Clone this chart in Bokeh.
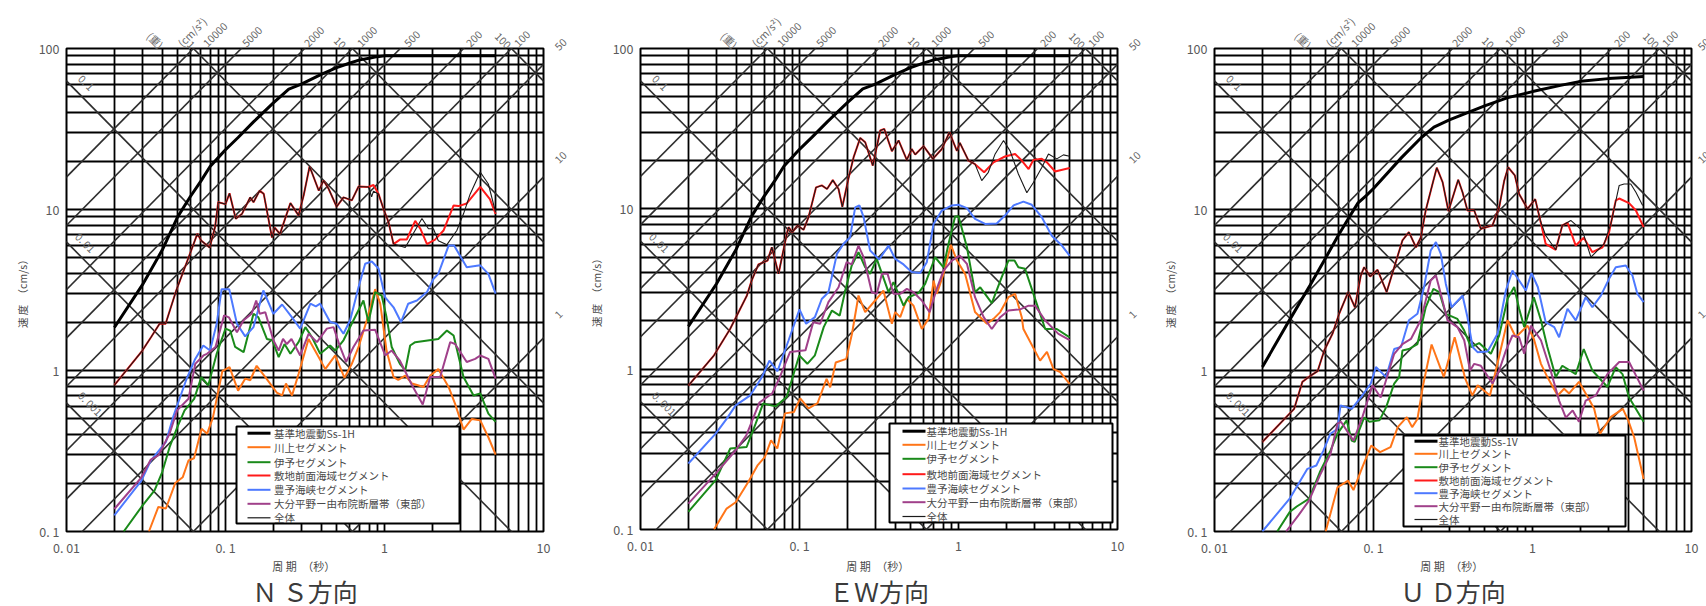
import math
from bokeh.plotting import figure
from bokeh.layouts import row
from bokeh.embed import file_html
from bokeh.resources import INLINE
from bokeh.models import FixedTicker, Label, BoxAnnotation, LogAxis, Title

# ---------- shared scale data ----------
x_ticks = [0.01, 0.1, 1, 10]
x_tick_labels = {0.01: "0. 01", 0.1: "0. 1", 1: "1", 10: "10"}
y_ticks = [0.1, 1, 10, 100]
y_tick_labels = {0.1: "0. 1", 1: "1", 10: "10", 100: "100"}
x_grid = [.01,.02,.03,.04,.05,.06,.07,.08,.09,.1,.2,.3,.4,.5,.6,.7,.8,.9,1,2,3,4,5,6,7,8,9,10]
y_grid = [.1,.2,.3,.4,.5,.6,.7,.8,.9,1,2,3,4,5,6,7,8,9,10,20,30,40,50,60,70,80,90,100]
accel_lines = [10000, 5000, 2000, 1000, 500, 200, 100, 50, 10, 1]
disp_lines = [100, 10, 1, 0.1, 0.01, 0.001]
series_names = ["川上セグメント", "伊予セグメント", "敷地前面海域セグメント", "豊予海峡セグメント",
                "大分平野ー由布院断層帯（東部）", "全体"]
series_colors = ["#ff7518", "#1a8a1a", "#ff1a1a", "#4d79ff", "#a0408a", "#1a1a1a"]

# ---------- design spectra ----------
ss_h_t = [.02,.03,.04,.05,.06,.07,.08,.09,.1,.12,.15,.2,.25,.3,.4,.5,.6,.7,.8,.9,1,2,5]
ss_h_v = [1.85,3.4,5.6,9.0,12,15,18.5,21,23.5,28,35,46,56,60,69,76,81,85,87,89,90,90,90]
ss_v_t = [.02,.03,.04,.05,.06,.07,.08,.09,.1,.15,.2,.24,.3,.5,.7,1,1.5,2,3,5]
ss_v_v = [1.05,2.1,3.4,5,6.9,8.9,11,12.2,13.5,21,28,32.5,36,44,49.5,54,59,62.5,65,67]

# ---------- NS ----------
ns_red_t = [.02,.03,.034,.0385,.042,.049,.058,.0665,.0705,.0795,.086,.09,.1,.106,.116,.127,.143,.15,.164,.174,.196,.204,.22,.256,.288,.31,.338,.386,.414,.446,.5,.552,.623,.687,.793,.853,.917,.985,1.06,1.14,1.25,1.38,1.56,1.68,1.85,2.08,2.35,2.72,2.92,3.29,4,4.6,5]
ns_red_v = [.81,1.33,1.61,1.95,1.95,3.14,4.9,7.06,6.4,5.8,7.8,11.1,10.8,12.6,8.75,9.4,11.9,11.1,13.1,12.5,6.7,7.7,7.06,10.95,9.2,12.2,18.5,13.1,15.1,13.4,10.4,11.9,11.4,13.9,13.8,14.2,12.5,10.1,8.35,6.1,6.5,6.5,8.5,7.6,6.1,6.5,7.4,10.6,10.5,10.9,13.8,11.6,9.4]
ns_blk_tail_t = [.83,.853,.917,.985,1.06,1.14,1.35,1.72,1.89,2.03,2.18,2.47,2.85,3.14,3.46,4,4.5,5]
ns_blk_tail_v = [12,13,12.5,10.1,8.35,6.1,5.8,8.8,7.6,7.6,6.4,6.05,7.4,9.4,12.5,17.1,14.4,9.6]
ns_blue_t = [.02,.0296,.0339,.0422,.047,.0565,.0645,.0725,.08,.088,.0945,.1055,.118,.133,.15,.173,.2,.227,.262,.295,.342,.37,.394,.455,.5,.552,.608,.687,.756,.832,.917,1.01,1.14,1.27,1.41,1.6,1.85,2.03,2.18,2.53,2.74,3.29,4,4.5,5]
ns_blue_v = [.126,.207,.276,.36,.52,.87,1.18,1.43,1.33,1.95,3.2,3.2,1.95,1.63,1.86,3.14,2.25,2.57,2.14,1.82,2.6,2.5,2.6,2.0,1.95,1.69,2.05,3.3,4.6,4.75,4.3,2.85,2.47,2.0,2.6,2.72,3.07,3.7,3.98,5.97,5.97,4.38,4.5,3.98,3.0]
ns_green_t = [.0229,.0296,.0358,.04,.0445,.05,.0553,.0635,.0705,.078,.088,.1,.107,.115,.13,.15,.161,.182,.197,.216,.235,.256,.288,.318,.35,.394,.455,.49,.552,.638,.737,.793,.874,.96,1.03,1.11,1.25,1.35,1.45,1.56,2.18,2.47,2.72,3.14,3.63,4,4.5,5]
ns_green_v = [.1,.142,.18,.234,.334,.45,.565,.667,.91,.81,1.27,1.82,1.77,1.4,1.3,2.25,2.14,1.57,1.54,1.21,1.46,1.27,1.5,1.86,1.61,1.27,1.43,1.33,1.54,2.05,2.72,2.0,3.07,2.92,2.14,1.4,1.1,1.0,1.43,1.5,1.57,1.77,1.65,.91,.7,.72,.54,.48]
ns_purple_t = [.02,.0296,.0339,.0378,.0445,.0496,.0585,.0645,.0727,.0765,.0865,.098,.105,.118,.13,.146,.156,.164,.178,.2,.216,.23,.243,.26,.295,.333,.376,.434,.478,.526,.573,.638,.737,.874,1.01,1.11,1.25,1.49,1.74,1.94,2.24,2.59,2.78,3.29,3.72,4,4.5,5]
ns_purple_v = [.138,.217,.28,.297,.405,.565,.667,1.1,1.24,1.27,1.4,2.2,2.14,1.73,2.05,2.25,2.72,2.25,2.3,1.54,1.33,1.57,1.46,1.57,1.24,1.69,1.5,1.82,1.86,1.4,1.13,1.4,1.77,1.79,1.24,1.33,1.15,.81,.615,.91,.91,1.5,1.46,1.13,1.18,1.24,1.18,.89]
ns_orange_t = [.033,.0378,.0422,.0483,.0538,.0585,.0634,.0707,.0767,.0833,.0955,.106,.12,.133,.143,.157,.178,.21,.227,.24,.262,.288,.333,.386,.424,.49,.56,.623,.687,.774,.874,.94,1.03,1.14,1.22,1.35,1.49,1.76,1.94,2.18,2.53,2.78,3.14,3.54,4,4.5,5]
ns_orange_v = [.1,.142,.139,.2,.217,.276,.285,.435,.405,.51,.99,1.05,.75,.89,.87,1.07,.91,.73,.7,.83,.7,.95,1.57,1.21,1.02,1.24,.9,1.1,1.4,2.05,3.2,2.6,1.33,.91,.875,.93,.83,.79,.93,1.02,.79,.62,.43,.5,.49,.385,.3]

# ---------- EW ----------
ew_red_t = [.02,.029,.0366,.0467,.05,.0552,.063,.067,.0738,.0832,.0853,.09,.097,.106,.114,.127,.138,.149,.162,.176,.186,.203,.219,.241,.259,.289,.322,.341,.381,.42,.473,.508,.534,.603,.69,.785,.877,.977,1.02,1.156,1.27,1.45,1.66,1.96,2.27,2.5,2.76,2.96,3.34,3.6,4.05,5]
ew_red_v = [.79,1.22,1.78,2.88,3.57,4.5,4.76,5.76,3.93,6.98,7.68,7.15,7.87,7.4,8.87,13.6,14,13.3,15.1,13.3,10.3,15.4,21,27.7,26,18.6,30.8,31.5,22.9,26.7,20.2,23.6,21.8,24.6,20.5,23.6,30,23,25.8,20,19,16.9,19.5,21.2,22,20,17.7,20.2,20.5,19.5,17.1,18]
ew_blk_tail_t = [1.27,1.4,1.54,1.7,1.92,2.11,2.38,2.69,2.96,3.34,3.68,4.15,4.57,5]
ew_blk_tail_v = [19,15,16.9,22,26.7,23,16.5,12.6,14.6,18.1,22,20.5,21.7,21.3]
ew_blue_t = [.02,.0297,.0348,.0397,.049,.058,.0647,.0727,.0853,.1,.11,.125,.138,.152,.172,.189,.208,.224,.238,.253,.278,.317,.363,.4,.451,.508,.574,.632,.697,.785,.908,1,1.13,1.27,1.47,1.74,1.96,2.22,2.56,2.89,3.34,3.86,4.47,5]
ew_blue_v = [.258,.396,.49,.594,.687,.89,1.13,.97,1.51,2.36,1.92,2.11,2.74,3.02,5.24,6.04,6.65,10.2,10.5,8.87,5.5,4.83,5.9,4.87,4.5,4.03,3.98,4.65,8.05,9.75,10.5,10.6,10.1,8.66,8.05,8.1,9.08,10.5,11.1,10.6,8.87,6.8,5.9,5.1]
ew_green_t = [.02,.0297,.0367,.0465,.053,.059,.0708,.083,.0997,.112,.125,.142,.16,.179,.194,.213,.235,.259,.278,.306,.363,.39,.451,.485,.56,.617,.713,.805,.865,.952,1,1.13,1.27,1.37,1.62,1.87,2.06,2.25,2.38,2.62,2.96,3.51,4.15,5]
ew_green_v = [.129,.203,.32,.327,.457,.61,.586,.67,1.22,1.08,1.22,1.83,2.32,2.16,3.09,4.43,5.36,4.32,3.93,4.87,3.02,3.49,2.49,2.81,2.98,3.4,4.99,4.32,6.04,8.95,9,5.76,3.02,3.24,2.58,3.75,4.76,4.76,4.32,4.23,2.95,1.78,1.78,1.58]
ew_purple_t = [.02,.0297,.0397,.0463,.056,.0673,.0746,.0873,.109,.122,.135,.152,.176,.198,.213,.235,.253,.285,.306,.33,.358,.39,.43,.473,.521,.588,.658,.73,.805,.908,1.02,1.13,1.27,1.44,1.62,1.83,2.06,2.44,2.76,3.03,3.51,4.25,5]
ew_purple_v = [.145,.223,.312,.386,.62,.705,.875,1.28,1.31,1.96,1.92,2.62,3.24,4.65,4.5,5.9,4.99,3.02,2.95,3.93,3.93,2.95,2.95,3.17,3.02,2.68,2.27,3.17,4.12,4.76,5.1,4.54,2.81,2.11,1.78,2.11,2.32,2.36,2.49,2.49,2.01,1.66,1.52]
ew_orange_t = [.029,.0348,.0397,.0476,.0543,.0605,.0662,.0725,.081,.0922,.101,.114,.13,.148,.156,.169,.197,.214,.235,.259,.299,.337,.381,.4,.43,.473,.521,.588,.648,.697,.73,.805,.895,.977,1.1,1.27,1.51,1.66,1.83,2.06,2.27,2.5,2.56,3.26,3.6,3.96,4.36,5]
ew_orange_v = [.1,.135,.148,.198,.25,.283,.36,.32,.53,.54,.658,.57,.615,.87,.77,1.1,1.16,1.67,2.88,2.27,2.68,3.09,1.92,2.27,2.11,2.74,2.49,1.78,2.06,3.57,2.95,3.93,5.96,4.76,3.93,2.27,1.92,2.06,2.27,2.81,2.95,2.11,1.78,1.13,1.28,1.0,.96,.81]

# ---------- UD ----------
ud_red_t = [.02,.0317,.0357,.0403,.0445,.049,.0552,.0608,.0693,.0764,.0832,.0873,.0953,.106,.121,.135,.152,.167,.185,.198,.213,.235,.25,.272,.296,.341,.363,.39,.43,.473,.56,.617,.664,.703,.774,.824,.93,1.04,1.12,1.21,1.4,1.54,1.66,1.87,2.1,2.38,2.76,3.03,3.34,3.51,4.05,4.47,5]
ud_red_v = [.36,.578,.85,.93,.99,1.33,1.69,2.25,3.07,2.47,3.89,4.38,3.84,4.22,3.07,4.38,6.42,7.23,5.83,6.67,9.86,14.4,18.2,14.8,9.77,15.3,12.8,9.86,9.86,7.59,7.96,10.3,15.1,18.3,16.3,12.5,10.1,11.6,8.55,6.12,5.62,7.96,8.3,5.97,6.67,5.43,5.83,7.23,11.4,11.7,10.95,9.86,7.77]
ud_blk_tail_t = [1.12,1.21,1.4,1.54,1.74,2.06,2.33,2.82,3.11,3.51,3.77,4.15,4.47,4.93]
ud_blk_tail_v = [8.55,6.9,5.62,7.96,8.55,7.4,5.06,6.12,8.15,14.1,14.4,14.4,12.8,10.6]
ud_blue_t = [.02,.0297,.0384,.0437,.0484,.0536,.0594,.062,.0729,.0832,.0962,.1035,.12,.135,.149,.167,.189,.208,.229,.247,.265,.285,.31,.363,.39,.42,.451,.521,.603,.68,.748,.824,.908,.986,1.08,1.21,1.37,1.47,1.66,1.87,2.16,2.38,2.69,3.03,3.34,3.86,4.25,4.57,5]
ud_blue_v = [.1,.16,.245,.257,.318,.405,.435,.607,.578,.68,.83,1.05,.91,1.36,1.4,2.05,2.25,3.3,5.57,6.27,5.3,3.45,2.47,2.92,2.14,1.4,1.3,1.31,1.69,3.14,4.18,3.62,3.14,4.03,3.3,2.0,1.86,1.61,2.42,2.05,2.85,2.47,2.92,3.71,4.38,4.49,3.89,2.99,2.66]
ud_green_t = [.0248,.0297,.0329,.0394,.046,.0536,.0594,.0678,.0729,.0761,.0873,.0942,.109,.12,.135,.145,.152,.167,.189,.213,.238,.259,.285,.337,.372,.41,.462,.547,.617,.697,.767,.824,.887,1.02,1.13,1.24,1.4,1.54,1.87,2.1,2.38,2.96,3.34,3.68,4.05,5]
ud_green_v = [.1,.132,.143,.16,.234,.318,.405,.49,.367,.36,.51,.48,.49,.59,.83,.91,1.33,1.36,1.46,2.47,3.21,3.07,2.25,2.09,1.77,1.4,1.48,1.27,1.65,2.79,3.3,2.42,1.86,2.85,2.05,1.4,.91,1.07,.95,1.36,1.0,.79,1.05,.95,.68,.48]
ud_purple_t = [.0282,.0337,.0394,.046,.0536,.0594,.0624,.0748,.0851,.0986,.111,.135,.152,.172,.198,.213,.229,.247,.265,.292,.337,.372,.405,.43,.473,.56,.617,.68,.748,.824,.887,.977,1.13,1.3,1.47,1.62,1.79,1.96,2.16,2.5,2.96,3.51,4.05,5]
ud_purple_v = [.1,.126,.156,.223,.303,.467,.48,.367,.513,.81,.68,1.27,1.46,1.57,2.05,2.72,3.62,3.89,2.99,2.05,1.86,1.54,1.0,1.1,1.07,.83,1.0,1.33,1.65,1.61,1.27,1.9,1.54,1.0,.65,.51,.565,.48,.65,.7,.95,1.13,1.13,.75]
ud_orange_t = [.05,.0594,.0692,.0748,.0851,.0968,.11,.128,.142,.162,.175,.189,.204,.232,.277,.324,.378,.418,.452,.54,.697,.785,.93,1.02,1.13,1.24,1.44,1.58,1.7,1.96,2.16,2.44,2.66,3.1,3.7,4,4.36,5]
ud_orange_v = [.1,.188,.207,.181,.251,.342,.311,.334,.445,.513,.445,.5,.79,1.45,.91,1.61,.887,.7,.81,.7,2.05,1.61,1.9,1.57,1.1,.91,.7,.77,.72,.85,.72,.58,.405,.513,.578,.49,.385,.212]

# ---------- scale annotations around the frame (text, pixel offset from the frame) ----------
disp_top_labels = [("(重)", 95), ("1", 127), ("10", 278), ("100", 443)]
accel_top_labels = [("(cm/s²)", 113), ("10000", 138), ("5000", 177), ("2000", 239), ("1000", 292),
                    ("500", 339), ("200", 401), ("100", 449)]
accel_right_labels = [("50", 0), ("10", 113), ("1", 268)]
disp_left_labels = [("0. 1", 20, 82), ("0. 01", 19, 242), ("0. 001", 24, 403)]

FONT = "Noto Sans CJK JP"
TXT = "#4a4a4a"
SCALE_TXT = "#666666"
DIAG = "#2e2e2e"
H = 606


def splice(base_t, base_v, tail_t, tail_v):
    keep = [(t, v) for t, v in zip(base_t, base_v) if t < tail_t[0]]
    return [k[0] for k in keep] + list(tail_t), [k[1] for k in keep] + list(tail_v)


def bare(ax):
    ax.major_tick_line_color = None
    ax.minor_tick_line_color = None
    ax.major_tick_out = 0
    ax.major_tick_in = 0
    ax.minor_tick_out = 0
    ax.minor_tick_in = 0
    ax.axis_line_color = None
    ax.major_label_text_font = FONT


def style_text_axis(ax, ticks, labels, orient, standoff):
    bare(ax)
    ax.ticker = FixedTicker(ticks=ticks)
    ax.major_label_overrides = labels
    ax.major_label_orientation = orient
    ax.major_label_standoff = standoff
    ax.major_label_text_font_size = "10.5px"
    ax.major_label_text_color = SCALE_TXT


def panel(title, legend_ss, ss, curves, blk_tail, fig_w, b_left, b_right, frame_h,
          box, glyph_dx, text_dx, rows_y, right_standoff, xlabel_standoff):
    p = figure(width=fig_w, height=H, x_axis_type="log", y_axis_type="log",
               x_range=(0.01, 10), y_range=(0.1, 100), toolbar_location=None,
               output_backend="svg", min_border_left=b_left, min_border_right=b_right,
               min_border_top=48, min_border_bottom=H - 48 - frame_h,
               background_fill_color="white", outline_line_color="black", outline_line_width=2)
    p.frame_width = 477
    p.frame_height = frame_h

    def T(dx):
        return round(10 ** (-2 + dx / 159.0), 6)

    def V(dy):
        return round(10 ** (2 - dy / (frame_h / 3.0)), 6)

    for ax, ticks, labs in ((p.xaxis[0], x_ticks, x_tick_labels), (p.yaxis[0], y_ticks, y_tick_labels)):
        bare(ax)
        ax.ticker = FixedTicker(ticks=ticks)
        ax.major_label_overrides = labs
        ax.major_label_text_font_size = "12.5px"
        ax.major_label_text_color = "#5a5a5a"
        ax.axis_label_text_font = FONT
        ax.axis_label_text_font_style = "normal"
        ax.axis_label_text_color = TXT
    p.xaxis[0].major_label_standoff = 6
    p.yaxis[0].major_label_standoff = 7
    p.xaxis[0].axis_label = "周  期　（秒）"
    p.xaxis[0].axis_label_text_font_size = "11px"
    p.xaxis[0].axis_label_standoff = xlabel_standoff
    p.yaxis[0].axis_label = "速  度　（cm/s）"
    p.yaxis[0].axis_label_text_font_size = "10.5px"
    p.yaxis[0].axis_label_standoff = 6

    # displacement scale labels (falling lines): nearest the frame
    top_d = LogAxis()
    tks = [T(d) for _, d in disp_top_labels]
    style_text_axis(top_d, tks, {T(d): s for s, d in disp_top_labels}, -math.pi / 4, 2)
    p.add_layout(top_d, "above")
    # acceleration scale labels (rising lines)
    top_a = LogAxis()
    tks = [T(d) for _, d in accel_top_labels]
    style_text_axis(top_a, tks, {T(d): s for s, d in accel_top_labels}, math.pi / 4, -24)
    p.add_layout(top_a, "above")
    # right-hand acceleration labels
    right_a = LogAxis()
    tks = [V(d) for _, d in accel_right_labels]
    style_text_axis(right_a, tks, {V(d): s for s, d in accel_right_labels}, math.pi / 4, right_standoff)
    p.add_layout(right_a, "right")

    p.xgrid[0].ticker = FixedTicker(ticks=x_grid)
    p.ygrid[0].ticker = FixedTicker(ticks=y_grid)
    for g in (p.xgrid[0], p.ygrid[0]):
        g.grid_line_color = "black"
        g.grid_line_width = 1.8
        g.grid_line_alpha = 1
        g.minor_grid_line_color = None

    ends = [1e-3, 1e2]
    for a in accel_lines:
        p.line(ends, [a * t / (2 * math.pi) for t in ends], line_color=DIAG, line_width=1.6)
    for d in disp_lines:
        p.line(ends, [2 * math.pi * d / t for t in ends], line_color=DIAG, line_width=1.6)

    p.line(ss[0], ss[1], line_color="black", line_width=3)
    for color, (t, v) in zip(series_colors[:5], curves):
        p.line(t, v, line_color=color, line_width=2)
    red_t, red_v = curves[2]
    bt, bv = splice(red_t, red_v, blk_tail[0], blk_tail[1])
    p.line(bt, bv, line_color=series_colors[5], line_width=1.1)

    # key: white box, sample strokes and texts
    p.add_layout(BoxAnnotation(left=T(box[0]), right=T(box[1]), top=V(box[2]), bottom=V(box[3]),
                               fill_color="white", fill_alpha=1, line_color="black", line_width=2,
                               line_alpha=1))
    key_names = [legend_ss] + series_names
    key_colors = ["black"] + series_colors
    key_widths = [3, 2, 2, 2, 2, 2, 1.2]
    for name, color, width, y_abs in zip(key_names, key_colors, key_widths, rows_y):
        yv = V(y_abs - 48)
        p.line([T(glyph_dx), T(glyph_dx + 23)], [yv, yv], line_color=color, line_width=width, level="overlay")
        p.add_layout(Label(x=text_dx, y=frame_h - (y_abs - 48), x_units="screen", y_units="screen", text=name,
                           text_font=FONT, text_font_size="10.5px", text_color=TXT,
                           text_align="left", text_baseline="middle"))

    for text, dx, y_abs in disp_left_labels:
        p.add_layout(Label(x=dx, y=frame_h - (y_abs - 48), x_units="screen", y_units="screen", text=text,
                           angle=-math.pi / 4, text_font=FONT, text_font_size="10.5px",
                           text_color=SCALE_TXT, text_align="center", text_baseline="middle"))

    p.add_layout(Title(text=title, align="center", vertical_align="middle", text_font=FONT,
                       text_font_size="25px", text_font_style="normal", text_color="#3a3a3a",
                       standoff=-10), "below")
    return p


p1 = panel("Ｎ Ｓ方向", "基準地震動Ss-1H", (ss_h_t, ss_h_v),
           [(ns_orange_t, ns_orange_v), (ns_green_t, ns_green_v), (ns_red_t, ns_red_v),
            (ns_blue_t, ns_blue_v), (ns_purple_t, ns_purple_v)], (ns_blk_tail_t, ns_blk_tail_v),
           580, 66, 37, 483, (170, 393, 378, 475), 181, 207.5,
           [432.7, 446.7, 461.7, 475, 489.3, 503.3, 517.3], 13, -2)
p2 = panel("ＥＷ方向", "基準地震動Ss-1H", (ss_h_t, ss_h_v),
           [(ew_orange_t, ew_orange_v), (ew_green_t, ew_green_v), (ew_red_t, ew_red_v),
            (ew_blue_t, ew_blue_v), (ew_purple_t, ew_purple_v)], (ew_blk_tail_t, ew_blk_tail_v),
           577, 60, 40, 481, (249, 472, 375, 474), 262, 286,
           [430.7, 444.3, 458.3, 473.7, 488, 501.7, 516], 13, 0)
p3 = panel("Ｕ Ｄ方向", "基準地震動Ss-1V", (ss_v_t, ss_v_v),
           [(ud_orange_t, ud_orange_v), (ud_green_t, ud_green_v), (ud_red_t, ud_red_v),
            (ud_blue_t, ud_blue_v), (ud_purple_t, ud_purple_v)], (ud_blk_tail_t, ud_blk_tail_v),
           549, 57, 15, 483, (189, 411, 387, 478), 200, 224,
           [440.7, 453.3, 466.7, 480, 492.7, 505.7, 519], 8, -2)

layout = row(p1, p2, p3, spacing=0)
open("out.html", "w").write(file_html(layout, INLINE))
